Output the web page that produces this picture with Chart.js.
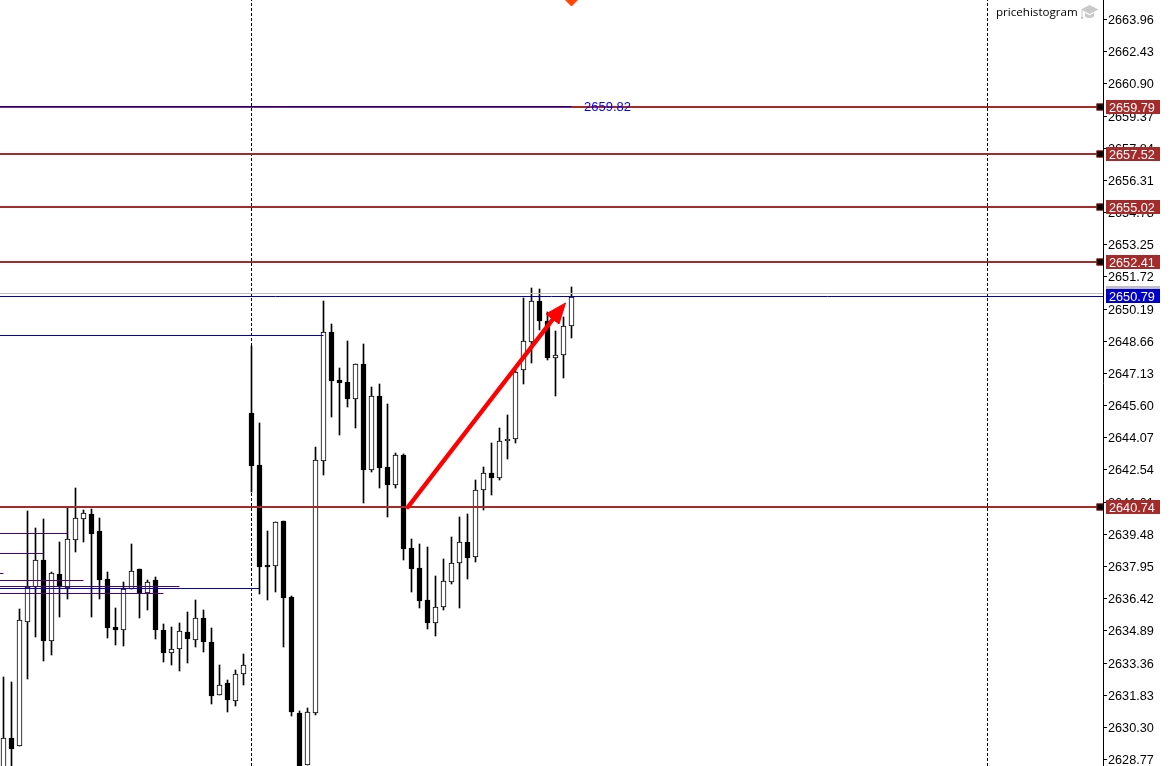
<!DOCTYPE html>
<html>
<head>
<meta charset="utf-8">
<title>XAUUSD</title>
<script src="https://cdn.jsdelivr.net/npm/chart.js@4/dist/chart.umd.js"></script>
<style>
  html, body { margin: 0; padding: 0; background: #fff; overflow: hidden; }
  canvas { display: block; }
</style>
</head>
<body>
<canvas id="chart" width="1174" height="766"></canvas>
<script>
var opens = [2627.9, 2629.77, 2629.40, 2635.30, 2636.96, 2638.22, 2634.39, 2637.55, 2636.91, 2639.20, 2640.20, 2640.41, 2639.60, 2637.31, 2635.03, 2634.92, 2636.84, 2637.79, 2636.68, 2637.27, 2634.89, 2633.82, 2633.99, 2634.79, 2634.44, 2635.46, 2634.32, 2631.80, 2632.37, 2631.51, 2632.80, 2645.21, 2642.75, 2637.99, 2637.96, 2640.09, 2636.47, 2630.94, 2628.48, 2630.97, 2642.95, 2649.06, 2646.79, 2646.68, 2645.90, 2647.54, 2642.53, 2646.02, 2642.64, 2641.81, 2643.22, 2638.79, 2637.84, 2636.32, 2635.25, 2636.01, 2637.20, 2638.08, 2639.07, 2638.36, 2641.55, 2642.35, 2642.15, 2643.88, 2643.97, 2647.25, 2648.61, 2650.53, 2649.61, 2647.85, 2647.97, 2649.34];
var closes = [2629.77, 2629.26, 2635.36, 2636.96, 2638.22, 2634.39, 2637.60, 2636.96, 2639.22, 2640.21, 2640.45, 2639.48, 2637.30, 2635.01, 2634.92, 2636.84, 2637.69, 2636.65, 2637.17, 2634.92, 2633.82, 2633.99, 2634.84, 2634.49, 2635.46, 2634.35, 2631.78, 2632.27, 2631.59, 2632.80, 2633.22, 2642.72, 2637.91, 2637.91, 2640.02, 2636.44, 2631.02, 2628.0, 2630.99, 2642.97, 2649.06, 2646.76, 2646.66, 2645.90, 2647.54, 2642.53, 2646.02, 2642.62, 2641.81, 2643.21, 2638.76, 2637.82, 2636.30, 2635.25, 2635.98, 2637.22, 2638.08, 2639.07, 2638.34, 2641.55, 2642.35, 2642.15, 2643.88, 2643.97, 2647.19, 2648.63, 2650.53, 2649.61, 2647.85, 2647.97, 2649.34, 2650.75];
var highs = [2632.68, 2632.44, 2635.89, 2640.56, 2639.74, 2640.17, 2637.66, 2639.09, 2640.75, 2641.64, 2640.61, 2640.66, 2640.21, 2637.65, 2635.94, 2637.17, 2638.98, 2637.79, 2637.28, 2637.41, 2635.17, 2635.03, 2635.22, 2635.75, 2636.32, 2635.84, 2634.98, 2633.22, 2632.51, 2632.99, 2633.75, 2648.41, 2644.73, 2639.61, 2640.02, 2640.09, 2636.52, 2631.05, 2631.18, 2643.59, 2650.55, 2649.45, 2647.35, 2648.65, 2647.54, 2648.49, 2646.44, 2646.59, 2645.64, 2643.31, 2643.27, 2639.23, 2638.99, 2638.84, 2637.47, 2638.27, 2639.31, 2640.26, 2640.41, 2642.02, 2642.64, 2643.78, 2644.49, 2645.13, 2647.36, 2650.68, 2651.15, 2651.10, 2650.04, 2649.12, 2649.80, 2651.20];
var lows = [2627.5, 2627.5, 2629.40, 2632.57, 2634.59, 2633.43, 2633.71, 2635.54, 2636.39, 2638.63, 2639.10, 2635.54, 2636.39, 2634.54, 2634.20, 2634.16, 2636.84, 2635.49, 2635.87, 2634.49, 2633.40, 2633.25, 2632.97, 2633.35, 2634.11, 2633.87, 2631.40, 2631.80, 2631.02, 2631.30, 2632.30, 2641.47, 2636.62, 2636.33, 2636.72, 2634.11, 2630.83, 2627.8, 2628.48, 2630.88, 2642.27, 2645.05, 2644.19, 2645.52, 2644.52, 2640.96, 2642.43, 2641.66, 2640.29, 2641.67, 2638.23, 2636.71, 2635.95, 2634.95, 2634.63, 2635.85, 2637.09, 2635.95, 2637.33, 2638.15, 2640.61, 2641.32, 2642.04, 2643.03, 2643.81, 2646.60, 2647.61, 2649.17, 2647.74, 2646.04, 2646.90, 2648.80];

var tickValues = [2663.96, 2662.43, 2660.90, 2659.37, 2657.84, 2656.31, 2654.78, 2653.25, 2651.72, 2650.19, 2648.66, 2647.13, 2645.60, 2644.07, 2642.54, 2641.01, 2639.48, 2637.95, 2636.42, 2634.89, 2633.36, 2631.83, 2630.30, 2628.77];

var levels = [2659.79, 2657.52, 2655.02, 2652.41, 2640.74];
var askPrice = 2650.95;
var bidPrice = 2650.79;
var alertPrice = 2659.82;
var alertBar = 71;

// thin trend lines: price and the bar they stop at
var blueLinePrices = [2648.92, 2636.89];
var blueLineEnds = [40, 32];
var purpleLinePrices = [2639.50, 2638.55, 2637.60, 2637.28, 2636.98, 2636.65];
var purpleLineEnds = [8, 5, 0, 10, 22, 20];

var separatorBars = [31, 123];
var arrowBars = [50.56, 69.56];
var arrowPrices = [2640.74, 2650.12];
var arrowHeadBars = [70.25, 67.81, 69.44, 70.25];
var arrowHeadPrices = [2650.46, 2649.93, 2649.46, 2650.46];

var xMin = -0.4375;
var xMax = 137.4375;
var yMin = 2628.44;
var yMax = 2664.863;
var handleBar = 137.06;
var brown = "#a52a2a";
var axisFont = "12.7px 'Liberation Sans'";

function snapScale(scale, extra) {
  // terminal draws on whole pixels, so do the same
  scale.getPixelForValue = function (value) {
    return Math.round(Chart.LinearScale.prototype.getPixelForValue.call(scale, value)) + extra;
  };
}

function segment(label, x1, x2, price, color, width, thin, order) {
  return {
    type: "line",
    label: label,
    data: [{ x: x1, y: price }, { x: x2, y: price }],
    borderColor: color,
    borderWidth: width,
    pointRadius: 0,
    yAxisID: thin ? "yThin" : "y",
    order: order
  };
}

var datasets = [];

separatorBars.forEach(function (bar) {
  datasets.push({
    type: "line",
    label: "separator",
    data: [{ x: bar, y: yMin }, { x: bar, y: yMax }],
    borderColor: "#000",
    borderWidth: 1,
    borderDash: [3, 2],
    pointRadius: 0,
    order: 9
  });
});

datasets.push({
  type: "bar",
  label: "wicks",
  data: highs.map(function (h, i) { return { x: i, y: [lows[i], h] }; }),
  backgroundColor: "#000",
  barThickness: 1,
  order: 8
});

datasets.push({
  type: "bar",
  label: "bodies",
  data: opens.map(function (o, i) { return { x: i, y: [o, closes[i]] }; }),
  backgroundColor: opens.map(function (o, i) { return closes[i] > o ? "#fff" : "#000"; }),
  borderColor: "#000",
  borderWidth: 1,
  borderSkipped: false,
  barThickness: 5,
  order: 7
});

purpleLinePrices.forEach(function (price, i) {
  datasets.push(segment("purple", xMin, purpleLineEnds[i], price, "#4b0082", 1, true, 6));
});
datasets.push(segment("ask", xMin, xMax, askPrice, "#c0c0c0", 1, true, 5));
datasets.push(segment("bid", xMin, xMax, bidPrice, "#0000cd", 1, true, 4));
blueLinePrices.forEach(function (price, i) {
  datasets.push(segment("blue", xMin, blueLineEnds[i], price, "#0000cd", 1, true, 4));
});

levels.forEach(function (price) {
  datasets.push(segment("level", xMin, handleBar, price, brown, 2, false, 3));
});
datasets.push(segment("alert", xMin, alertBar, alertPrice, "#0000cd", 1, true, 2));

datasets.push({
  type: "line",
  label: "handles",
  data: levels.map(function (price) { return { x: handleBar, y: price }; }),
  showLine: false,
  pointStyle: "rect",
  pointRadius: 4.6,
  pointBackgroundColor: "#000",
  pointBorderColor: brown,
  pointBorderWidth: 1,
  order: 1
});

datasets.push({
  type: "line",
  label: "arrow",
  data: arrowBars.map(function (b, i) { return { x: b, y: arrowPrices[i] }; }),
  borderColor: "#ff0000",
  borderWidth: 4.5,
  borderCapStyle: "round",
  pointRadius: 0,
  order: 0
});
datasets.push({
  type: "line",
  label: "arrow head",
  data: arrowHeadBars.map(function (b, i) { return { x: b, y: arrowHeadPrices[i] }; }),
  borderColor: "#ff0000",
  backgroundColor: "#ff0000",
  borderWidth: 1,
  fill: "shape",
  pointRadius: 0,
  order: 0
});

datasets.push({
  type: "line",
  label: "marker",
  data: [{ x: alertBar, y: yMax }],
  showLine: false,
  pointStyle: "rectRot",
  pointRadius: 6,
  pointBackgroundColor: "#ff4500",
  pointBorderColor: "#ff4500",
  order: 0
});

function priceTag(ctx, y, price, color) {
  ctx.fillStyle = color;
  ctx.fillRect(1106, y - 7, 54, 14);
  ctx.fillStyle = "#fff";
  ctx.fillText(price.toFixed(2), 1109, y + 1);
}

function drawCap(ctx) {
  ctx.fillStyle = "#c9c9c9";
  ctx.beginPath();
  ctx.moveTo(1089.5, 5);
  ctx.lineTo(1098.5, 9.5);
  ctx.lineTo(1089.5, 14);
  ctx.lineTo(1081, 9.5);
  ctx.closePath();
  ctx.fill();
  ctx.beginPath();
  ctx.moveTo(1085, 13);
  ctx.lineTo(1089.5, 15.2);
  ctx.lineTo(1094, 13);
  ctx.lineTo(1094, 16.5);
  ctx.quadraticCurveTo(1089.5, 19.5, 1085, 16.5);
  ctx.closePath();
  ctx.fill();
  ctx.fillRect(1081.5, 10, 1, 7);
  ctx.fillRect(1081, 17, 2, 2);
}

var overlayPlugin = {
  id: "overlay",
  afterDraw: function (chart) {
    var ctx = chart.ctx;
    var y = chart.scales.y;
    ctx.save();
    ctx.textBaseline = "middle";
    ctx.textAlign = "left";

    ctx.font = "13px 'Liberation Sans'";
    ctx.fillStyle = "#0000ff";
    ctx.fillText(alertPrice.toFixed(2), 584, y.getPixelForValue(alertPrice) + 1);

    ctx.font = "11.6px 'Open Sans'";
    ctx.fillStyle = "#000";
    ctx.fillText("pricehistogram", 996, 13);
    drawCap(ctx);

    ctx.font = axisFont;
    priceTag(ctx, y.getPixelForValue(askPrice), askPrice, "#c0c0c0");
    priceTag(ctx, y.getPixelForValue(bidPrice), bidPrice, "#0000cd");
    levels.forEach(function (price) {
      priceTag(ctx, y.getPixelForValue(price), price, brown);
    });
    ctx.restore();
  }
};

new Chart(document.getElementById("chart"), {
  data: { datasets: datasets },
  plugins: [overlayPlugin],
  options: {
    responsive: false,
    animation: false,
    layout: { padding: 0, autoPadding: false },
    plugins: { legend: { display: false }, tooltip: { enabled: false } },
    datasets: { bar: { grouped: false } },
    scales: {
      x: { type: "linear", display: false, min: xMin, max: xMax, offset: false },
      y: {
        type: "linear",
        position: "right",
        min: yMin,
        max: yMax,
        afterBuildTicks: function (scale) {
          scale.ticks = tickValues.map(function (v) { return { value: v }; });
        },
        afterFit: function (scale) {
          scale.width = 71;
          scale.paddingTop = 0;
          scale.paddingBottom = 0;
        },
        afterUpdate: function (scale) { snapScale(scale, 0); },
        border: { color: "#000", width: 1 },
        grid: { drawOnChartArea: false, color: "#000", tickLength: 4 },
        ticks: {
          autoSkip: false,
          color: "#000",
          padding: 1,
          labelOffset: 1,
          font: { family: "Liberation Sans", size: 12.7 },
          callback: function (value) { return value.toFixed(2); }
        }
      },
      yThin: {
        type: "linear",
        display: false,
        min: yMin,
        max: yMax,
        afterUpdate: function (scale) { snapScale(scale, 0.5); }
      }
    }
  }
});
</script>
</body>
</html>
